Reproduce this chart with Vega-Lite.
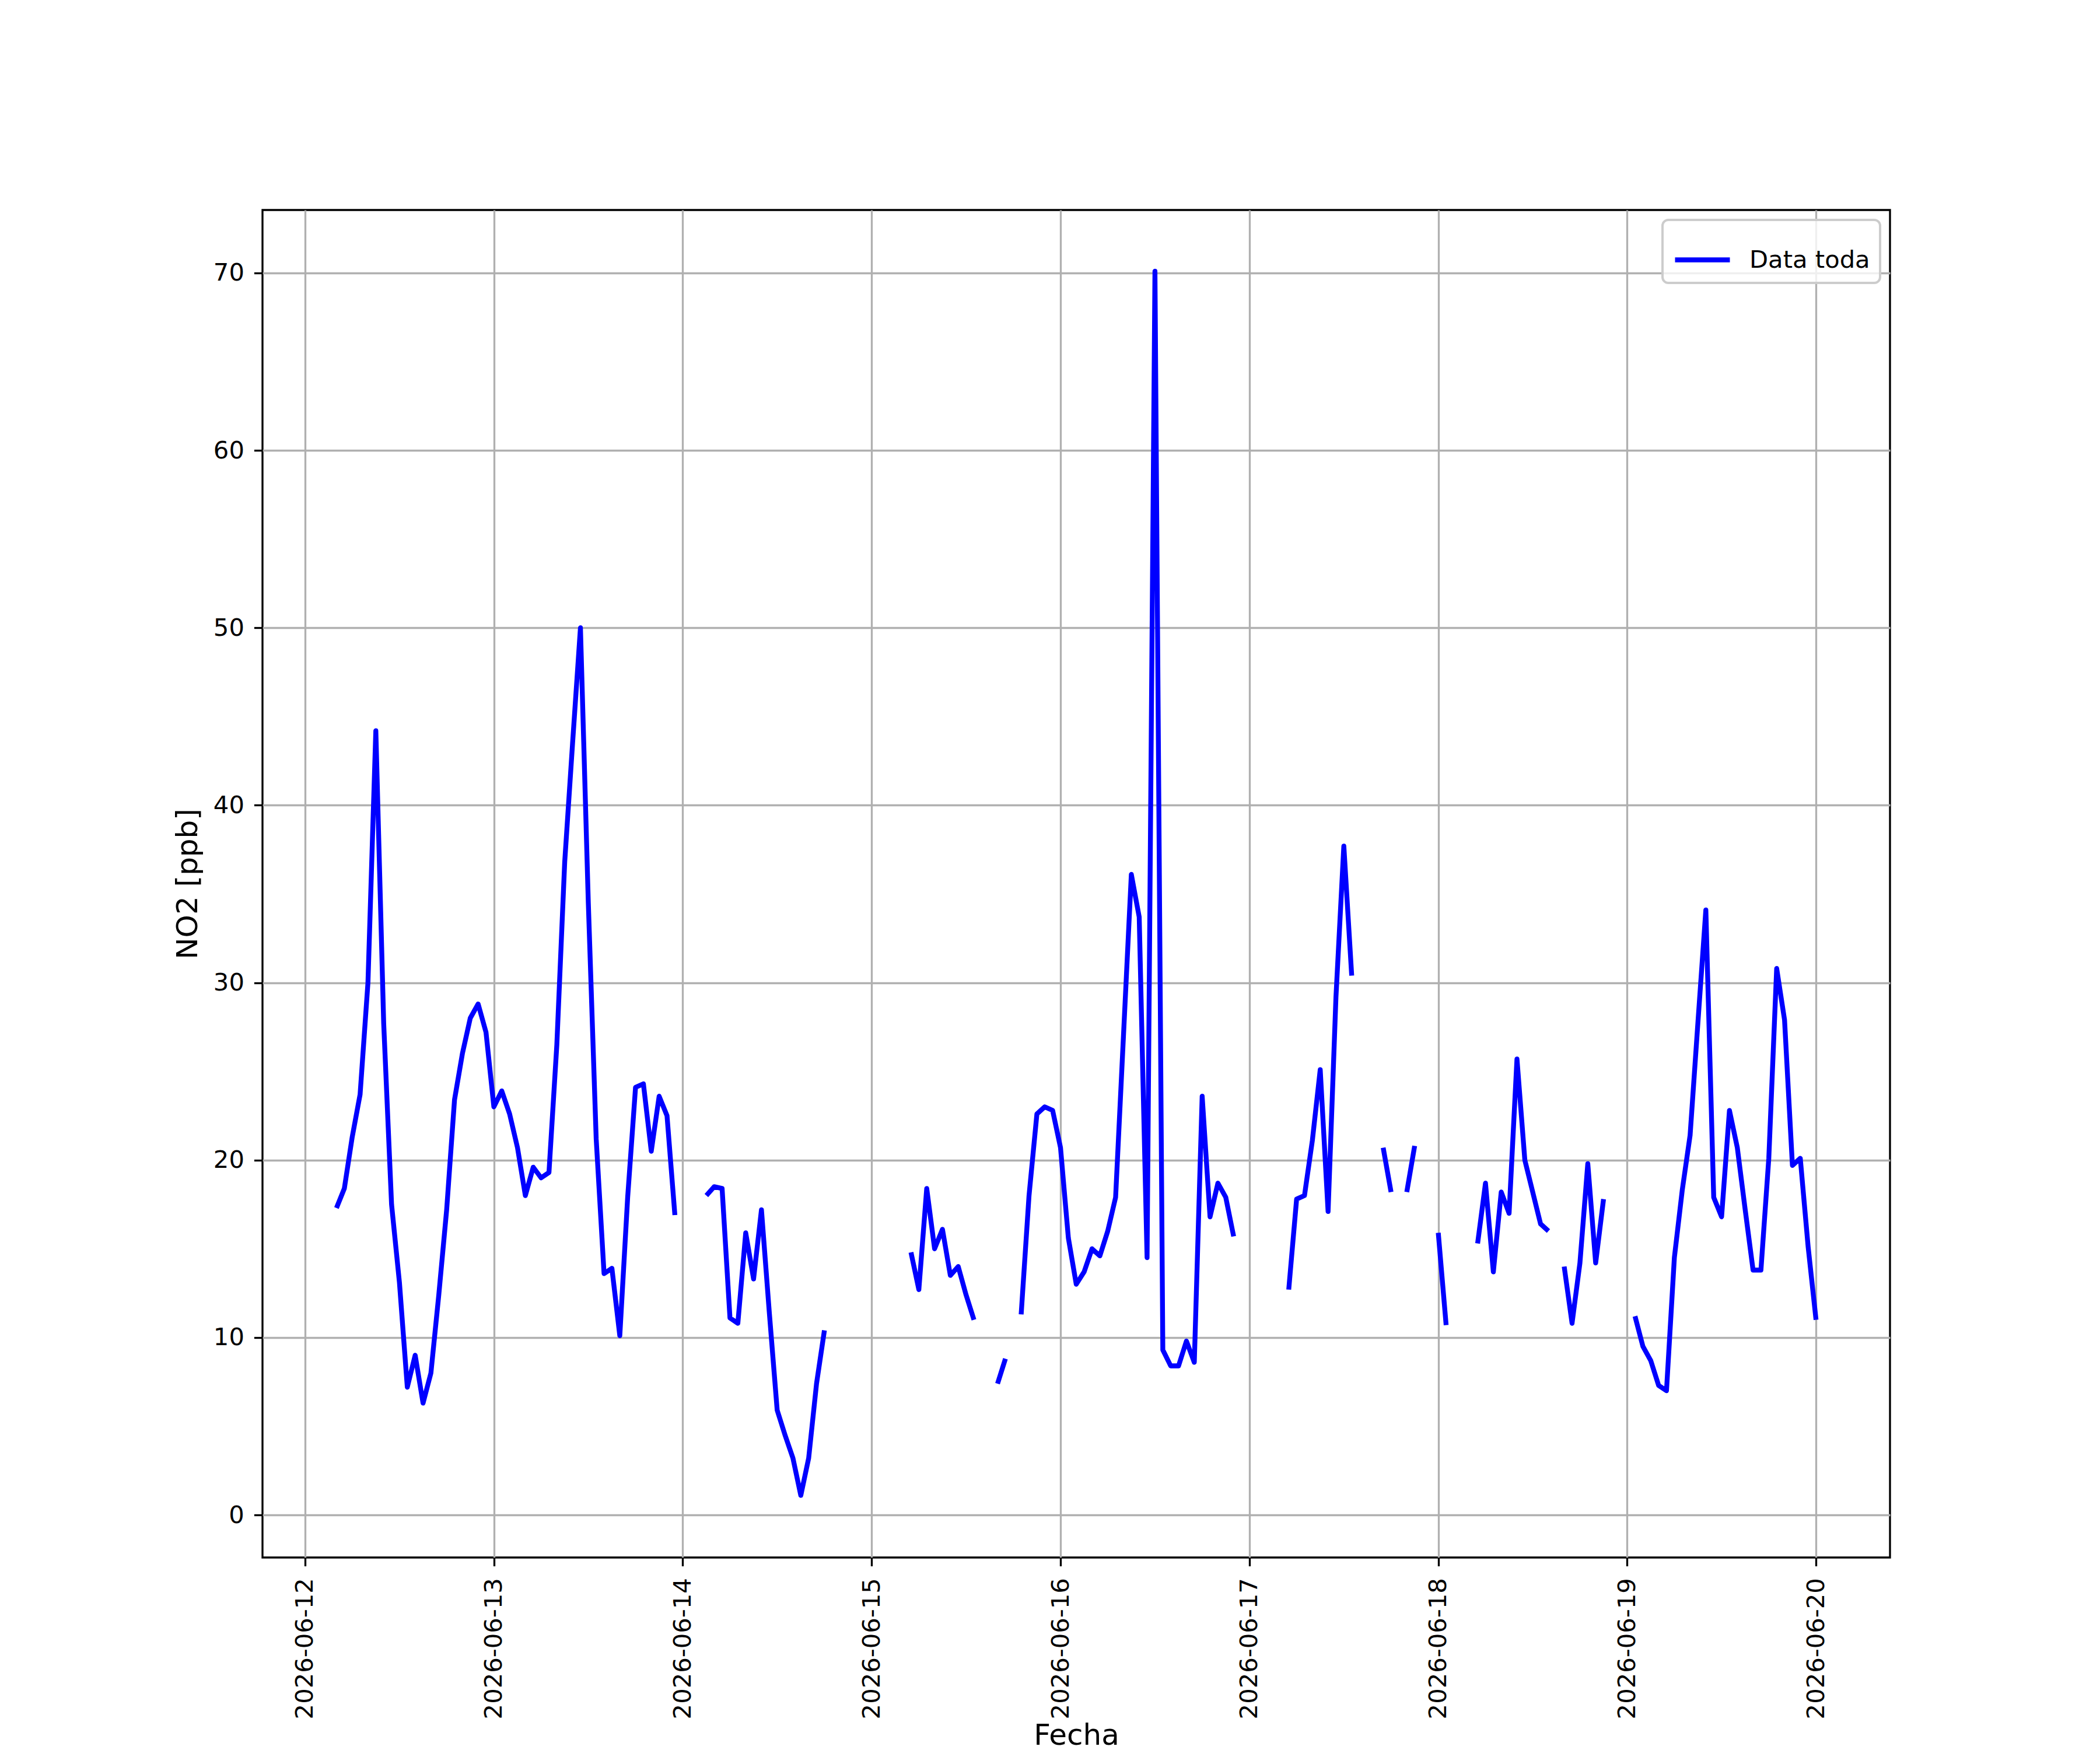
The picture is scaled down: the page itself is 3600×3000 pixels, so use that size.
{
  "$schema": "https://vega.github.io/schema/vega-lite/v6.json",
  "width": 2790,
  "height": 2310,
  "autosize": {"type": "none"},
  "padding": {"left": 450, "top": 360, "right": 360, "bottom": 330},
  "background": "white",
  "config": {
    "font": "DejaVu Sans",
    "view": {"stroke": "black", "strokeWidth": 3.33},
    "axis": {
      "domain": false,
      "grid": true,
      "gridColor": "#b0b0b0",
      "gridWidth": 3.33,
      "tickColor": "black",
      "tickWidth": 3.33,
      "tickSize": 14.6,
      "labelFont": "DejaVu Sans",
      "labelFontSize": 41.7,
      "labelColor": "black",
      "titleFont": "DejaVu Sans",
      "titleFontSize": 50,
      "titleFontWeight": "normal",
      "titleColor": "black"
    },
    "legend": {
      "orient": "top-right",
      "offset": 17,
      "padding": 17,
      "strokeColor": "#cccccc",
      "strokeWidth": 4,
      "cornerRadius": 10,
      "fillColor": "rgba(255,255,255,0.8)",
      "labelFont": "DejaVu Sans",
      "labelFontSize": 41.7,
      "labelColor": "black",
      "labelLimit": 0,
      "labelOffset": 29,
      "symbolType": "stroke",
      "symbolStrokeWidth": 8.33,
      "symbolSize": 8836
    }
  },
  "data": {
    "values": [
      {"t": "2026-06-12T04:00:00Z", "v": 17.3},
      {"t": "2026-06-12T05:00:00Z", "v": 18.4},
      {"t": "2026-06-12T06:00:00Z", "v": 21.3},
      {"t": "2026-06-12T07:00:00Z", "v": 23.7},
      {"t": "2026-06-12T08:00:00Z", "v": 30.0},
      {"t": "2026-06-12T09:00:00Z", "v": 44.2},
      {"t": "2026-06-12T10:00:00Z", "v": 27.7},
      {"t": "2026-06-12T11:00:00Z", "v": 17.5},
      {"t": "2026-06-12T12:00:00Z", "v": 13.1},
      {"t": "2026-06-12T13:00:00Z", "v": 7.2},
      {"t": "2026-06-12T14:00:00Z", "v": 9.0},
      {"t": "2026-06-12T15:00:00Z", "v": 6.3},
      {"t": "2026-06-12T16:00:00Z", "v": 8.0},
      {"t": "2026-06-12T17:00:00Z", "v": 12.4},
      {"t": "2026-06-12T18:00:00Z", "v": 17.2},
      {"t": "2026-06-12T19:00:00Z", "v": 23.4},
      {"t": "2026-06-12T20:00:00Z", "v": 26.0},
      {"t": "2026-06-12T21:00:00Z", "v": 28.0},
      {"t": "2026-06-12T22:00:00Z", "v": 28.8},
      {"t": "2026-06-12T23:00:00Z", "v": 27.2},
      {"t": "2026-06-13T00:00:00Z", "v": 23.0},
      {"t": "2026-06-13T01:00:00Z", "v": 23.9},
      {"t": "2026-06-13T02:00:00Z", "v": 22.6},
      {"t": "2026-06-13T03:00:00Z", "v": 20.7},
      {"t": "2026-06-13T04:00:00Z", "v": 18.0},
      {"t": "2026-06-13T05:00:00Z", "v": 19.6},
      {"t": "2026-06-13T06:00:00Z", "v": 19.0},
      {"t": "2026-06-13T07:00:00Z", "v": 19.3},
      {"t": "2026-06-13T08:00:00Z", "v": 26.5},
      {"t": "2026-06-13T09:00:00Z", "v": 36.8},
      {"t": "2026-06-13T10:00:00Z", "v": 43.5},
      {"t": "2026-06-13T11:00:00Z", "v": 50.0},
      {"t": "2026-06-13T12:00:00Z", "v": 34.5},
      {"t": "2026-06-13T13:00:00Z", "v": 21.2},
      {"t": "2026-06-13T14:00:00Z", "v": 13.6},
      {"t": "2026-06-13T15:00:00Z", "v": 13.9},
      {"t": "2026-06-13T16:00:00Z", "v": 10.1},
      {"t": "2026-06-13T17:00:00Z", "v": 17.9},
      {"t": "2026-06-13T18:00:00Z", "v": 24.1},
      {"t": "2026-06-13T19:00:00Z", "v": 24.3},
      {"t": "2026-06-13T20:00:00Z", "v": 20.5},
      {"t": "2026-06-13T21:00:00Z", "v": 23.6},
      {"t": "2026-06-13T22:00:00Z", "v": 22.5},
      {"t": "2026-06-13T23:00:00Z", "v": 16.9},
      {"t": "2026-06-14T00:00:00Z", "v": null},
      {"t": "2026-06-14T01:00:00Z", "v": null},
      {"t": "2026-06-14T02:00:00Z", "v": null},
      {"t": "2026-06-14T03:00:00Z", "v": 18.0},
      {"t": "2026-06-14T04:00:00Z", "v": 18.5},
      {"t": "2026-06-14T05:00:00Z", "v": 18.4},
      {"t": "2026-06-14T06:00:00Z", "v": 11.1},
      {"t": "2026-06-14T07:00:00Z", "v": 10.8},
      {"t": "2026-06-14T08:00:00Z", "v": 15.9},
      {"t": "2026-06-14T09:00:00Z", "v": 13.3},
      {"t": "2026-06-14T10:00:00Z", "v": 17.2},
      {"t": "2026-06-14T11:00:00Z", "v": 11.4},
      {"t": "2026-06-14T12:00:00Z", "v": 5.9},
      {"t": "2026-06-14T13:00:00Z", "v": 4.5},
      {"t": "2026-06-14T14:00:00Z", "v": 3.2},
      {"t": "2026-06-14T15:00:00Z", "v": 1.1},
      {"t": "2026-06-14T16:00:00Z", "v": 3.2},
      {"t": "2026-06-14T17:00:00Z", "v": 7.4},
      {"t": "2026-06-14T18:00:00Z", "v": 10.4},
      {"t": "2026-06-14T19:00:00Z", "v": null},
      {"t": "2026-06-14T20:00:00Z", "v": null},
      {"t": "2026-06-14T21:00:00Z", "v": null},
      {"t": "2026-06-14T22:00:00Z", "v": null},
      {"t": "2026-06-14T23:00:00Z", "v": null},
      {"t": "2026-06-15T00:00:00Z", "v": null},
      {"t": "2026-06-15T01:00:00Z", "v": null},
      {"t": "2026-06-15T02:00:00Z", "v": null},
      {"t": "2026-06-15T03:00:00Z", "v": null},
      {"t": "2026-06-15T04:00:00Z", "v": null},
      {"t": "2026-06-15T05:00:00Z", "v": 14.8},
      {"t": "2026-06-15T06:00:00Z", "v": 12.7},
      {"t": "2026-06-15T07:00:00Z", "v": 18.4},
      {"t": "2026-06-15T08:00:00Z", "v": 15.0},
      {"t": "2026-06-15T09:00:00Z", "v": 16.1},
      {"t": "2026-06-15T10:00:00Z", "v": 13.5},
      {"t": "2026-06-15T11:00:00Z", "v": 14.0},
      {"t": "2026-06-15T12:00:00Z", "v": 12.4},
      {"t": "2026-06-15T13:00:00Z", "v": 11.0},
      {"t": "2026-06-15T14:00:00Z", "v": null},
      {"t": "2026-06-15T15:00:00Z", "v": null},
      {"t": "2026-06-15T16:00:00Z", "v": 7.4},
      {"t": "2026-06-15T17:00:00Z", "v": 8.8},
      {"t": "2026-06-15T18:00:00Z", "v": null},
      {"t": "2026-06-15T19:00:00Z", "v": 11.3},
      {"t": "2026-06-15T20:00:00Z", "v": 18.0},
      {"t": "2026-06-15T21:00:00Z", "v": 22.6},
      {"t": "2026-06-15T22:00:00Z", "v": 23.0},
      {"t": "2026-06-15T23:00:00Z", "v": 22.8},
      {"t": "2026-06-16T00:00:00Z", "v": 20.7},
      {"t": "2026-06-16T01:00:00Z", "v": 15.6},
      {"t": "2026-06-16T02:00:00Z", "v": 13.0},
      {"t": "2026-06-16T03:00:00Z", "v": 13.7},
      {"t": "2026-06-16T04:00:00Z", "v": 15.0},
      {"t": "2026-06-16T05:00:00Z", "v": 14.6},
      {"t": "2026-06-16T06:00:00Z", "v": 16.0},
      {"t": "2026-06-16T07:00:00Z", "v": 17.9},
      {"t": "2026-06-16T08:00:00Z", "v": 27.0},
      {"t": "2026-06-16T09:00:00Z", "v": 36.1},
      {"t": "2026-06-16T10:00:00Z", "v": 33.7},
      {"t": "2026-06-16T11:00:00Z", "v": 14.5},
      {"t": "2026-06-16T12:00:00Z", "v": 70.1},
      {"t": "2026-06-16T13:00:00Z", "v": 9.3},
      {"t": "2026-06-16T14:00:00Z", "v": 8.4},
      {"t": "2026-06-16T15:00:00Z", "v": 8.4},
      {"t": "2026-06-16T16:00:00Z", "v": 9.8},
      {"t": "2026-06-16T17:00:00Z", "v": 8.6},
      {"t": "2026-06-16T18:00:00Z", "v": 23.6},
      {"t": "2026-06-16T19:00:00Z", "v": 16.8},
      {"t": "2026-06-16T20:00:00Z", "v": 18.7},
      {"t": "2026-06-16T21:00:00Z", "v": 17.9},
      {"t": "2026-06-16T22:00:00Z", "v": 15.7},
      {"t": "2026-06-16T23:00:00Z", "v": null},
      {"t": "2026-06-17T00:00:00Z", "v": null},
      {"t": "2026-06-17T01:00:00Z", "v": null},
      {"t": "2026-06-17T02:00:00Z", "v": null},
      {"t": "2026-06-17T03:00:00Z", "v": null},
      {"t": "2026-06-17T04:00:00Z", "v": null},
      {"t": "2026-06-17T05:00:00Z", "v": 12.7},
      {"t": "2026-06-17T06:00:00Z", "v": 17.8},
      {"t": "2026-06-17T07:00:00Z", "v": 18.0},
      {"t": "2026-06-17T08:00:00Z", "v": 21.1},
      {"t": "2026-06-17T09:00:00Z", "v": 25.1},
      {"t": "2026-06-17T10:00:00Z", "v": 17.1},
      {"t": "2026-06-17T11:00:00Z", "v": 29.2},
      {"t": "2026-06-17T12:00:00Z", "v": 37.7},
      {"t": "2026-06-17T13:00:00Z", "v": 30.4},
      {"t": "2026-06-17T14:00:00Z", "v": null},
      {"t": "2026-06-17T15:00:00Z", "v": null},
      {"t": "2026-06-17T16:00:00Z", "v": null},
      {"t": "2026-06-17T17:00:00Z", "v": 20.7},
      {"t": "2026-06-17T18:00:00Z", "v": 18.2},
      {"t": "2026-06-17T19:00:00Z", "v": null},
      {"t": "2026-06-17T20:00:00Z", "v": 18.2},
      {"t": "2026-06-17T21:00:00Z", "v": 20.8},
      {"t": "2026-06-17T22:00:00Z", "v": null},
      {"t": "2026-06-17T23:00:00Z", "v": null},
      {"t": "2026-06-18T00:00:00Z", "v": 15.9},
      {"t": "2026-06-18T01:00:00Z", "v": 10.7},
      {"t": "2026-06-18T02:00:00Z", "v": null},
      {"t": "2026-06-18T03:00:00Z", "v": null},
      {"t": "2026-06-18T04:00:00Z", "v": null},
      {"t": "2026-06-18T05:00:00Z", "v": 15.3},
      {"t": "2026-06-18T06:00:00Z", "v": 18.7},
      {"t": "2026-06-18T07:00:00Z", "v": 13.7},
      {"t": "2026-06-18T08:00:00Z", "v": 18.2},
      {"t": "2026-06-18T09:00:00Z", "v": 17.0},
      {"t": "2026-06-18T10:00:00Z", "v": 25.7},
      {"t": "2026-06-18T11:00:00Z", "v": 20.0},
      {"t": "2026-06-18T12:00:00Z", "v": 18.2},
      {"t": "2026-06-18T13:00:00Z", "v": 16.4},
      {"t": "2026-06-18T14:00:00Z", "v": 16.0},
      {"t": "2026-06-18T15:00:00Z", "v": null},
      {"t": "2026-06-18T16:00:00Z", "v": 14.0},
      {"t": "2026-06-18T17:00:00Z", "v": 10.8},
      {"t": "2026-06-18T18:00:00Z", "v": 14.2},
      {"t": "2026-06-18T19:00:00Z", "v": 19.8},
      {"t": "2026-06-18T20:00:00Z", "v": 14.2},
      {"t": "2026-06-18T21:00:00Z", "v": 17.8},
      {"t": "2026-06-18T22:00:00Z", "v": null},
      {"t": "2026-06-18T23:00:00Z", "v": null},
      {"t": "2026-06-19T00:00:00Z", "v": null},
      {"t": "2026-06-19T01:00:00Z", "v": 11.2},
      {"t": "2026-06-19T02:00:00Z", "v": 9.5},
      {"t": "2026-06-19T03:00:00Z", "v": 8.7},
      {"t": "2026-06-19T04:00:00Z", "v": 7.3},
      {"t": "2026-06-19T05:00:00Z", "v": 7.0},
      {"t": "2026-06-19T06:00:00Z", "v": 14.5},
      {"t": "2026-06-19T07:00:00Z", "v": 18.3},
      {"t": "2026-06-19T08:00:00Z", "v": 21.4},
      {"t": "2026-06-19T09:00:00Z", "v": 27.8},
      {"t": "2026-06-19T10:00:00Z", "v": 34.1},
      {"t": "2026-06-19T11:00:00Z", "v": 17.9},
      {"t": "2026-06-19T12:00:00Z", "v": 16.8},
      {"t": "2026-06-19T13:00:00Z", "v": 22.8},
      {"t": "2026-06-19T14:00:00Z", "v": 20.7},
      {"t": "2026-06-19T15:00:00Z", "v": 17.2},
      {"t": "2026-06-19T16:00:00Z", "v": 13.8},
      {"t": "2026-06-19T17:00:00Z", "v": 13.8},
      {"t": "2026-06-19T18:00:00Z", "v": 20.1},
      {"t": "2026-06-19T19:00:00Z", "v": 30.8},
      {"t": "2026-06-19T20:00:00Z", "v": 27.9},
      {"t": "2026-06-19T21:00:00Z", "v": 19.7},
      {"t": "2026-06-19T22:00:00Z", "v": 20.1},
      {"t": "2026-06-19T23:00:00Z", "v": 15.1},
      {"t": "2026-06-20T00:00:00Z", "v": 11.0}
    ]
  },
  "mark": {
    "type": "line",
    "strokeWidth": 8.33,
    "strokeJoin": "round",
    "invalid": "break-paths-filter-domains"
  },
  "encoding": {
    "x": {
      "field": "t",
      "type": "temporal",
      "title": "Fecha",
      "scale": {
        "type": "utc",
        "domain": [
          {"year": 2026, "month": 6, "date": 11, "hours": 18, "minutes": 36, "utc": true},
          {"year": 2026, "month": 6, "date": 20, "hours": 9, "minutes": 24, "utc": true}
        ]
      },
      "axis": {
        "values": [
          {"year": 2026, "month": 6, "date": 12, "utc": true},
          {"year": 2026, "month": 6, "date": 13, "utc": true},
          {"year": 2026, "month": 6, "date": 14, "utc": true},
          {"year": 2026, "month": 6, "date": 15, "utc": true},
          {"year": 2026, "month": 6, "date": 16, "utc": true},
          {"year": 2026, "month": 6, "date": 17, "utc": true},
          {"year": 2026, "month": 6, "date": 18, "utc": true},
          {"year": 2026, "month": 6, "date": 19, "utc": true},
          {"year": 2026, "month": 6, "date": 20, "utc": true}
        ],
        "labelExpr": "utcFormat(datum.value, '%Y-%m-%d')",
        "labelAngle": -90,
        "labelPadding": 20,
        "labelFlush": false,
        "labelOverlap": false,
        "labelLimit": 0,
        "titlePadding": 80
      }
    },
    "y": {
      "field": "v",
      "type": "quantitative",
      "title": "NO2 [ppb]",
      "scale": {"domain": [-2.4, 73.55], "nice": false, "zero": false},
      "axis": {
        "values": [0, 10, 20, 30, 40, 50, 60, 70],
        "format": "d",
        "labelPadding": 17,
        "titlePadding": 18
      }
    },
    "color": {
      "datum": "Data toda",
      "type": "nominal",
      "scale": {"domain": ["Data toda"], "range": ["#0000ff"]},
      "legend": {"title": null}
    }
  }
}
